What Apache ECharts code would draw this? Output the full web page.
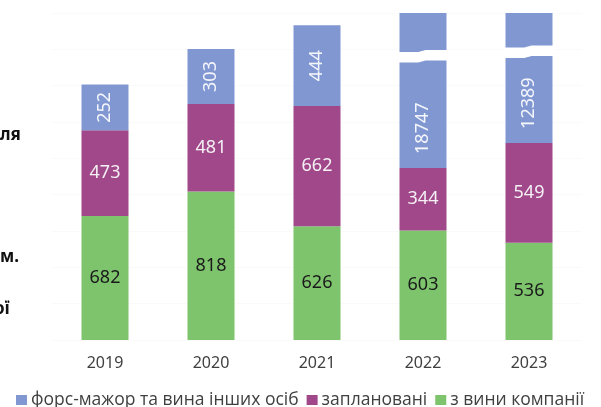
<!DOCTYPE html>
<html>
<head>
<meta charset="utf-8">
<script src="https://cdn.jsdelivr.net/npm/echarts@6/dist/echarts.min.js"></script>
<style>
  html, body { margin: 0; padding: 0; background: #fff; }
  #chart { width: 601px; height: 407px; }
</style>
</head>
<body>
<div id="chart"></div>
<script>
const years = ['2019', '2020', '2021', '2022', '2023'];
const forceMajeure = [252, 303, 444, 18747, 12389];
const planned = [473, 481, 662, 344, 549];
const companyFault = [682, 818, 626, 603, 536];
const seriesNames = ['форс-мажор та вина інших осіб', 'заплановані', 'з вини компанії'];
// axis-break marks drawn on the clipped bars (category index, value where the break is shown)
const breakMarks = [[3, 1560], [4, 1585]];
const leftTexts = ['ля', 'м.', 'ої'];

const FONT = '"Noto Sans", "Open Sans", sans-serif';
const LFONT = '"Open Sans", "Noto Sans", sans-serif';
const C_BLUE = '#8097d2';
const C_PURPLE = '#a0488a';
const C_GREEN = '#7dc46d';

const chart = echarts.init(document.getElementById('chart'), null, { renderer: 'canvas' });

const blueData = forceMajeure.map((v, i) => {
  if (v > 1800) {
    return {
      value: v,
      label: { position: 'insideBottom', distance: 14, align: 'left', verticalAlign: 'middle' }
    };
  }
  return v;
});

const option = {
  animation: false,
  backgroundColor: '#fff',
  textStyle: { fontFamily: FONT },
  grid: { left: 52, right: 19, top: 13, bottom: 67, containLabel: false },
  legend: {
    data: [seriesNames[0], seriesNames[1], seriesNames[2]],
    left: 11, top: 386,
    itemWidth: 11, itemHeight: 10, itemGap: 8,
    icon: 'rect',
    textStyle: { fontFamily: LFONT, fontSize: 17.5, color: '#404040', padding: [0, 0, 0, -1] }
  },
  xAxis: {
    type: 'category',
    data: years,
    axisLine: { show: false },
    axisTick: { show: false },
    axisLabel: { fontFamily: FONT, fontSize: 16, color: '#404040', margin: 15 }
  },
  yAxis: {
    type: 'value',
    min: 0, max: 1800, interval: 200,
    axisLabel: { show: false },
    axisLine: { show: false },
    axisTick: { show: false },
    splitLine: { lineStyle: { color: '#fafafa', width: 1 } }
  },
  graphic: leftTexts.map((t, i) => ({
    type: 'text',
    left: i === 2 ? -6 : 0,
    top: [127, 249, 301][i],
    style: { text: t, font: 'bold 17px ' + FONT, fill: '#111' }
  })),
  series: [
    {
      name: seriesNames[2], type: 'bar', stack: 'total', barWidth: 47,
      data: companyFault,
      itemStyle: { color: C_GREEN },
      label: { show: true, position: 'inside', fontFamily: FONT, fontSize: 18, color: '#1a1a1a' }
    },
    {
      name: seriesNames[1], type: 'bar', stack: 'total', barWidth: 47,
      data: planned,
      itemStyle: { color: C_PURPLE },
      label: { show: true, position: 'inside', fontFamily: FONT, fontSize: 18, color: '#f4f0f4' }
    },
    {
      name: seriesNames[0], type: 'bar', stack: 'total', barWidth: 47,
      data: blueData,
      itemStyle: { color: C_BLUE },
      clip: true,
      label: { show: true, position: 'inside', rotate: 90, fontFamily: FONT, fontSize: 18, color: '#f4f6fb' }
    },
    {
      type: 'custom',
      z: 10,
      silent: true,
      data: breakMarks,
      encode: { x: 0, y: 1 },
      renderItem: function (params, api) {
        const p = api.coord([api.value(0), api.value(1)]);
        const w = 47 + 6;
        const x0 = p[0] - w / 2, x1 = p[0] + w / 2, xm = p[0] - 1;
        const yc = p[1];
        const path =
          'M' + x0 + ',' + (yc - 4.5) +
          ' L' + (xm - 6) + ',' + (yc - 4.5) +
          ' C' + xm + ',' + (yc - 4.5) + ' ' + xm + ',' + (yc - 6.5) + ' ' + (xm + 6) + ',' + (yc - 6.5) +
          ' L' + x1 + ',' + (yc - 6.5) +
          ' L' + x1 + ',' + (yc + 4) +
          ' L' + (xm + 6) + ',' + (yc + 4) +
          ' C' + xm + ',' + (yc + 4) + ' ' + xm + ',' + (yc + 6) + ' ' + (xm - 6) + ',' + (yc + 6) +
          ' L' + x0 + ',' + (yc + 6) + ' Z';
        return {
          type: 'path',
          shape: { pathData: path },
          style: { fill: '#ffffff', stroke: null }
        };
      }
    }
  ]
};

chart.setOption(option);
</script>
</body>
</html>
